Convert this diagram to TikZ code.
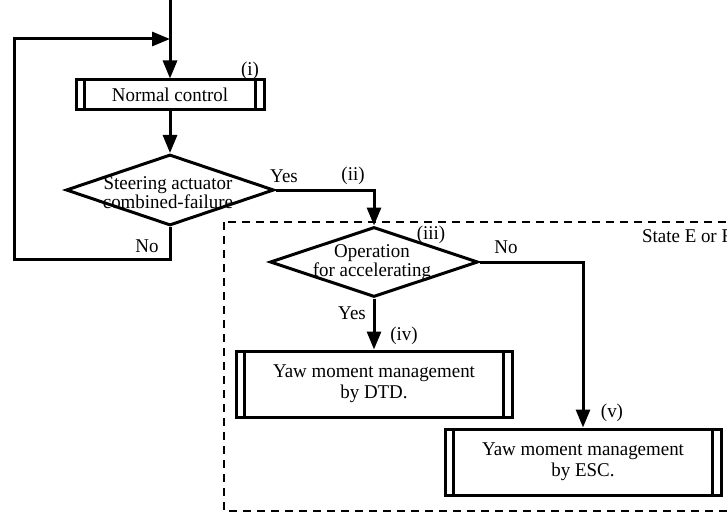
\documentclass[tikz,border=0pt]{standalone}
\usepackage{fontspec}
\setmainfont[FakeStretch=0.97]{Liberation Serif}
\usetikzlibrary{shapes.geometric,arrows.meta}

\tikzset{
  flow/.style={line width=3pt},
  arr/.style={flow,-{Triangle[length=18pt,width=14pt]}},
  proc/.style={draw,line width=3pt,inner sep=0pt,align=center,
    font=\fontsize{19.5}{21}\selectfont,
    path picture={\draw[line width=3pt]
      ([xshift=8.5pt]path picture bounding box.north west) -- ([xshift=8.5pt]path picture bounding box.south west)
      ([xshift=-8.5pt]path picture bounding box.north east) -- ([xshift=-8.5pt]path picture bounding box.south east);}},
  dec/.style={draw,diamond,line width=3pt,inner sep=0pt,minimum width=208pt,minimum height=71pt},
  dectxt/.style={align=center,inner sep=0pt,font=\fontsize{19.5}{15.5}\selectfont},
  lbl/.style={inner sep=0pt,font=\fontsize{19.5}{21}\selectfont}
}

\begin{document}
\begin{tikzpicture}[x=1pt,y=-1pt]
    \useasboundingbox (0,0) rectangle (727,513);
    \clip (0,0) rectangle (727,513);

    % State E or F region
    \draw[line width=2pt,dash pattern=on 8pt off 6pt] (224,222) rectangle (760,511);
    \node[lbl,anchor=base west] (state) at (642,242) {State E or F};

    % Normal control
    \coordinate (top) at (170,0);
    \coordinate (join) at (170,39);
    \node[proc,minimum width=188pt,minimum height=30pt] (norm) at (170,95) {Normal control};
    \node[lbl] (li) at (250,71) {(i)};

    % Failure check
    \node[dec] (fail) at (170,190) {};
    \node[dectxt] (failt) at (168,193) {Steering actuator\\combined-failure};
    \coordinate (loop) at (14,259);

    % Accelerating check
    \node[dec,minimum height=70pt] (acc) at (374,262) {};
    \node[dectxt] (acct) at (372,263) {Operation\\for accelerating};
    \node[lbl] (liii) at (431,235) {(iii)};

    % Yaw moment management
    \node[proc,minimum width=276pt,minimum height=66pt] (dtd) at (374,384) {Yaw moment management\\by DTD.};
    \node[proc,minimum width=276pt,minimum height=66pt] (esc) at (583,462) {Yaw moment management\\by ESC.};

    % connectors
    \draw[flow] (top) -- (join);
    \draw[arr] (join) -- (norm);
    \draw[arr] (norm) -- (fail);
    \draw[arr] (fail.south) |- (loop) |- (join);
    \draw[arr] (fail.east) -| (acc.north);
    \draw[arr] (acc) -- (dtd);
    \draw[arr] (acc.east) -| (esc.north);

    \node[lbl] (yes1) at (284,176) {Yes};
    \node[lbl] (lii) at (353,176) {(ii)};
    \node[lbl] (no1) at (147,246) {No};
    \node[lbl] (no2) at (506,247) {No};
    \node[lbl] (yes2) at (352,313) {Yes};
    \node[lbl] (liv) at (404,336) {(iv)};
    \node[lbl] (lv) at (612,413) {(v)};
\end{tikzpicture}
\end{document}
